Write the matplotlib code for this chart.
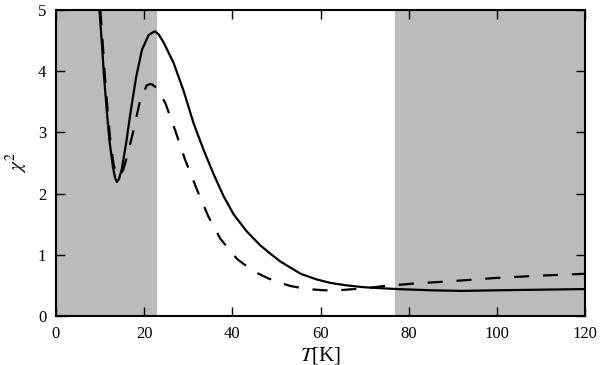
import matplotlib
matplotlib.use("Agg")
import matplotlib.pyplot as plt

# Data
T_solid = [9.85, 10.4, 10.9, 11.5, 12.1, 12.9, 13.4, 13.8, 14.3, 14.9, 15.9, 17.0, 18.2,
           19.5, 21.0, 22.1, 22.5, 23.3, 24.4, 25.5, 26.7, 28.9, 31.2, 33.5, 35.8, 38.0,
           40.3, 43.3, 46.4, 48.6, 50.9, 55.5, 59.0, 62.3, 66.0, 69.8, 77.4, 85.0,
           92.0, 100.0, 110.0, 120.0]
chi_solid = [5.0, 4.46, 3.91, 3.37, 2.88, 2.44, 2.26, 2.19, 2.24, 2.39, 2.82, 3.37, 3.91,
             4.35, 4.59, 4.64, 4.65, 4.60, 4.47, 4.31, 4.13, 3.69, 3.15, 2.71, 2.31, 1.96,
             1.66, 1.38, 1.15, 1.02, 0.89, 0.69, 0.60, 0.54, 0.50, 0.47, 0.44, 0.42,
             0.41, 0.42, 0.43, 0.44]

T_dash = [10.05, 10.6, 11.1, 11.7, 12.3, 13.1, 13.7, 14.4, 15.2, 16.1, 17.6, 19.1, 20.6,
          21.4, 21.9, 22.9, 24.8, 27.0, 29.3, 32.0, 34.6, 37.3, 41.1, 44.8, 48.3, 51.0,
          53.2, 57.0, 60.8, 64.0, 67.6, 71.0, 74.4, 81.2, 90.0, 99.4, 110.0, 120.0]
chi_dash = [5.0, 4.46, 3.91, 3.37, 2.88, 2.46, 2.32, 2.28, 2.38, 2.60, 3.04, 3.53, 3.77,
            3.79, 3.78, 3.72, 3.48, 3.04, 2.55, 2.06, 1.62, 1.26, 0.93, 0.73, 0.61, 0.54,
            0.49, 0.44, 0.42, 0.42, 0.44, 0.46, 0.49, 0.53, 0.57, 0.62, 0.66, 0.69]

shade_regions = [(0, 23.0), (77.0, 120)]

x_ticks = [0, 20, 40, 60, 80, 100, 120]
y_ticks = [0, 1, 2, 3, 4, 5]

plt.rcParams['font.family'] = ['Liberation Serif', 'DejaVu Serif']
plt.rcParams['mathtext.fontset'] = 'stix'

fig = plt.figure(figsize=(6.0, 3.65), dpi=100)
ax = fig.add_axes([56/600, 49/365, 529/600, 306/365])

for a, b in shade_regions:
    ax.axvspan(a, b, color='#bbbbbb', lw=0, zorder=0)

ax.plot(T_solid, chi_solid, color='black', lw=1.6, solid_joinstyle='round', zorder=3)
ln, = ax.plot(T_dash, chi_dash, color='black', lw=1.6, zorder=3)
ln.set_dashes((6.8, 6.2))

ax.set_xlim(0, 120)
ax.set_ylim(0, 5)
ax.set_xticks(x_ticks)
ax.set_yticks(y_ticks)
ax.tick_params(direction='in', top=True, right=True, length=6.5, width=1.0,
               labelsize=12, pad=7)
for s in ax.spines.values():
    s.set_linewidth(1.5)

ax.set_xlabel('$T$[K]', fontsize=15, labelpad=2)
ax.set_ylabel('$\\chi^2$', fontsize=14, labelpad=6)

fig.savefig('out.png', dpi=100)
